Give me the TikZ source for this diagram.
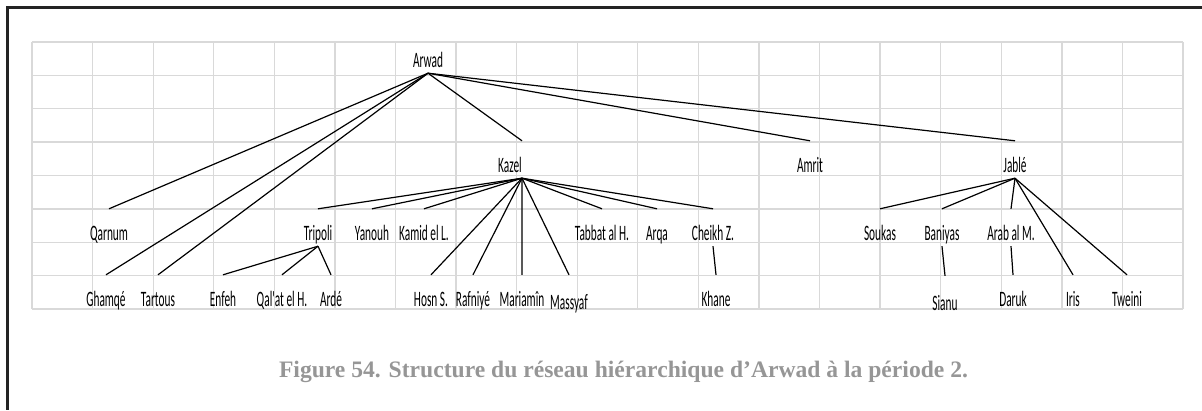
\documentclass[tikz,border=0pt]{standalone}
\usepackage{fontspec}
\newfontfamily\lieufont[FakeStretch=0.515]{Carlito}
\newfontfamily\legendefont{Liberation Serif}
\definecolor{GrilleGris}{RGB}{217,217,217}
\definecolor{LegendeGris}{RGB}{150,150,150}
\definecolor{CadreNoir}{RGB}{35,35,35}
\tikzset{
  lieu/.style={inner sep=0pt, anchor=base, text height=31pt, text depth=6pt,
    font=\lieufont\fontsize{22}{24}\selectfont},
  lieubas/.style={lieu, text height=34pt},
  lien/.style={draw=black, line width=1.2pt}
}
\begin{document}
\begin{tikzpicture}[x=1pt,y=-1pt]
  \useasboundingbox (0,0) rectangle (1202,410);
  % cadre
  \draw[CadreNoir, line width=2.6pt] (1202,7.7) -- (7.7,7.7) -- (7.7,410);
  % grille
  \foreach \i in {0,...,19}
    \draw[GrilleGris, line width=1.3pt] ({32+\i*60.58},42) -- ({32+\i*60.58},309);
  \foreach \j in {0,...,8}
    \draw[GrilleGris, line width=1.3pt] (32,{42+\j*33.375}) -- (1183,{42+\j*33.375});

  % sommet
  \node[lieu] (arwad) at (428,67) {Arwad};
  % niveau 1
  \node[lieu] (kazel) at (510,172) {Kazel};
  \node[lieu] (amrit) at (810,172) {Amrit};
  \node[lieu] (jable) at (1015,172) {Jablé};
  % niveau 2
  \node[lieu] (qarnum) at (109,240) {Qarnum};
  \node[lieu] (tripoli) at (318,240) {Tripoli};
  \node[lieu] (yanouh) at (372,240) {Yanouh};
  \node[lieu] (kamid) at (424,240) {Kamid el L.};
  \node[lieu] (tabbat) at (602,240) {Tabbat al H.};
  \node[lieu] (arqa) at (657,240) {Arqa};
  \node[lieu] (cheikh) at (713,240) {Cheikh Z.};
  \node[lieu] (soukas) at (880,240) {Soukas};
  \node[lieu] (baniyas) at (942,240) {Baniyas};
  \node[lieu] (arab) at (1011,240) {Arab al M.};
  % niveau 3
  \node[lieu] (ghamqe) at (106,306) {Ghamqé};
  \node[lieu] (tartous) at (158,306) {Tartous};
  \node[lieu] (enfeh) at (223,306) {Enfeh};
  \node[lieu] (qalat) at (282,306) {Qal'at el H.};
  \node[lieu] (arde) at (331,306) {Ardé};
  \node[lieu] (hosn) at (431,306) {Hosn S.};
  \node[lieu] (rafniye) at (473,306) {Rafniyé};
  \node[lieu] (mariamin) at (522,306) {Mariamîn};
  \node[lieubas] (massyaf) at (569,309) {Massyaf};
  \node[lieu] (khane) at (716,306) {Khane};
  \node[lieubas] (sianu) at (945,310) {Sianu};
  \node[lieu] (daruk) at (1013,306) {Daruk};
  \node[lieu] (iris) at (1073,306) {Iris};
  \node[lieu] (tweini) at (1127,306) {Tweini};

  % liens
  \foreach \b in {qarnum,ghamqe,tartous,amrit,jable}
    \draw[lien] (arwad.south) -- (\b.north);
  \draw[lien] (arwad.south) -- (kazel.north east);
  \foreach \b in {tripoli,yanouh,kamid,hosn,rafniye,mariamin,massyaf,tabbat,arqa,cheikh}
    \draw[lien] (kazel.south east) -- (\b.north);
  \foreach \b in {enfeh,qalat,arde}
    \draw[lien] (tripoli.south) -- (\b.north);
  \draw[lien] (cheikh.south) -- (khane.north);
  \foreach \b in {soukas,baniyas,arab,iris,tweini}
    \draw[lien] (jable.south) -- (\b.north);
  \draw[lien] (baniyas.south) -- (sianu.north);
  \draw[lien] (arab.south) -- (daruk.north);

  % legende
  \node[anchor=base, text=LegendeGris, inner sep=0pt,
    font=\legendefont\bfseries\fontsize{23.6}{26}\selectfont] (legende) at (623.5,377)
    {Figure 54. Structure du réseau hiérarchique d’Arwad à la période 2.};
\end{tikzpicture}
\end{document}
